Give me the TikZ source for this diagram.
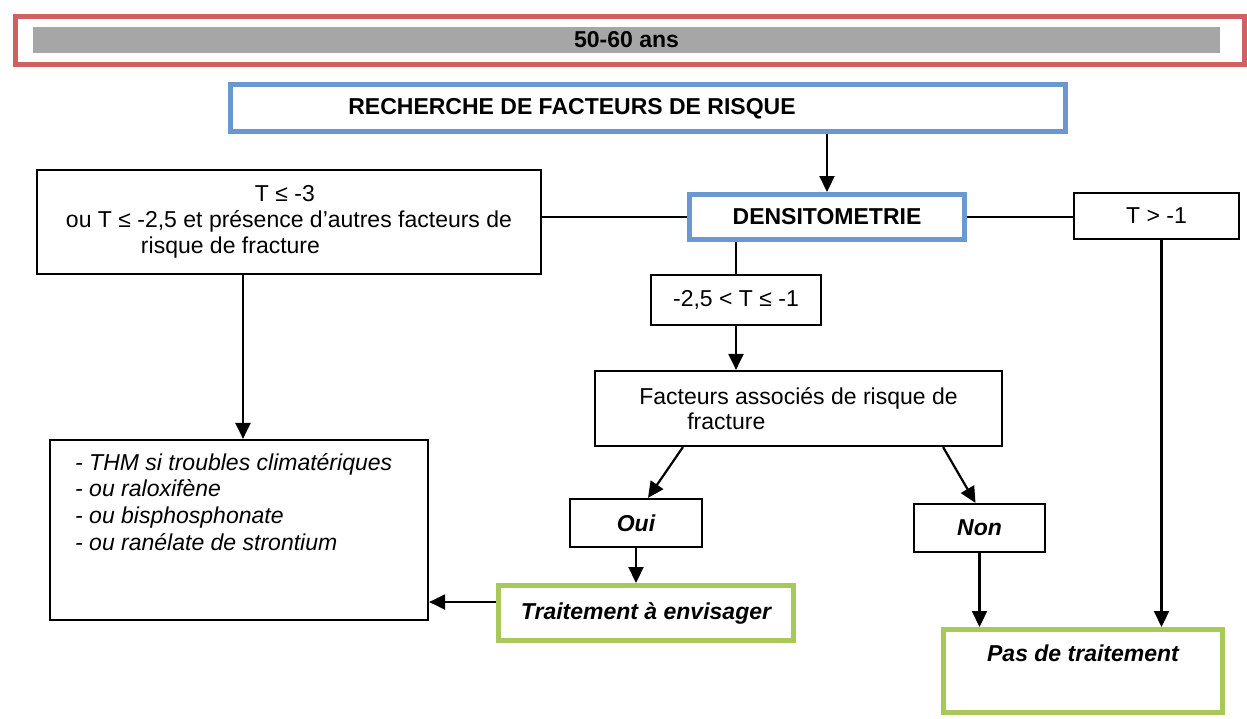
\documentclass[tikz,border=0pt]{standalone}
\usepackage{fontspec}
\setmainfont{Liberation Sans}
\usetikzlibrary{arrows.meta}
\definecolor{redc}{RGB}{208,96,98}
\definecolor{bluec}{RGB}{108,152,210}
\definecolor{greenc}{RGB}{168,200,88}
\definecolor{grayc}{RGB}{166,166,166}
\tikzset{
  plainbox/.style={draw=black, line width=2.2pt, inner sep=0pt},
  bluebox/.style={draw=bluec, line width=5pt, inner sep=0pt},
  greenbox/.style={draw=greenc, line width=5pt, inner sep=0pt},
  redbox/.style={draw=redc, line width=5pt, inner sep=0pt},
  txt/.style={font=\fontsize{23}{26}\selectfont},
  btxt/.style={font=\fontsize{23}{26}\selectfont\bfseries},
  bitxt/.style={font=\fontsize{23}{26}\selectfont\bfseries\itshape},
  itxt/.style={font=\fontsize{23}{26.7}\selectfont\itshape},
  conn/.style={draw=black, line width=2.2pt},
  arr/.style={conn, -{Triangle[width=15pt,length=16pt]}}
}
\begin{document}
\begin{tikzpicture}[x=1pt,y=-1pt]
\useasboundingbox (0,0) rectangle (1247,718);
\fill[white] (0,0) rectangle (1247,718);

% header
\node[redbox, minimum width=1229pt, minimum height=48pt] (age) at (630,40.5) {};
\node[fill=grayc, minimum width=1187pt, minimum height=26pt, inner sep=0pt, btxt] (bar) at (626.5,40) {50-60 ans};

% recherche
\node[bluebox, minimum width=835pt, minimum height=47pt] (rech) at (648,108) {};
\node[btxt, anchor=base, inner sep=0pt] (rechtxt) at (572,114) {RECHERCHE DE FACTEURS DE RISQUE};

% densitometrie
\node[bluebox, btxt, minimum width=275pt, minimum height=45pt] (dens) at (827,217) {DENSITOMETRIE};

% left top box
\node[plainbox, txt, align=left, minimum width=504pt, minimum height=104pt] (lt) at (289,222)
  {\hspace*{189pt}T ≤ -3\\ou T ≤ -2,5 et présence d’autres facteurs de\\\hspace*{75pt}risque de fracture};

% T > -1
\node[plainbox, txt, minimum width=165pt, minimum height=46pt] (t1) at (1156.5,216) {T > -1};

% middle
\node[plainbox, txt, minimum width=170pt, minimum height=50pt] (mid) at (736,300) {-2,5 < T ≤ -1};

% facteurs
\node[plainbox, font=\fontsize{23}{24.5}\selectfont, align=left, minimum width=407pt, minimum height=75pt] (fac) at (798.5,408.5)
  {Facteurs associés de risque de\\\hspace*{48pt}fracture};

% list box
\node[plainbox, minimum width=378pt, minimum height=180pt] (list) at (239,530) {};
\node[itxt, align=left, anchor=north west, inner sep=0pt] (listtxt) at (75,453)
  {- THM si troubles climatériques\\- ou raloxifène\\- ou bisphosphonate\\- ou ranélate de strontium};

% oui / non
\node[plainbox, bitxt, minimum width=132pt, minimum height=48pt] (oui) at (636,523) {Oui};
\node[plainbox, bitxt, minimum width=131pt, minimum height=48pt] (non) at (979.5,528) {Non};

% outcomes
\node[greenbox, bitxt, minimum width=295pt, minimum height=55pt] (trait) at (646,613) {Traitement à envisager};
\node[greenbox, minimum width=279pt, minimum height=83pt] (pas) at (1083,671) {};
\node[bitxt, anchor=base, inner sep=0pt] (pastxt) at (1083,661) {Pas de traitement};

% connectors
\draw[arr] (rech.south -| dens.north) -- (dens.north);
\draw[conn] (dens.west -| lt.east) -- (dens.west);
\draw[conn] (dens.east) -- (dens.east -| t1.west);
\draw[conn] (mid.north |- dens.south) -- (mid.north);
\draw[arr] (mid.south) -- (mid.south |- fac.north);
\coordinate (fo) at ([xshift=89pt]fac.south west);
\coordinate (fn) at ([xshift=-60pt]fac.south east);
\draw[arr] (fo) -- ([xshift=12pt]oui.north);
\draw[arr] (fn) -- ([xshift=-4pt]non.north);
\draw[arr] (oui.south) -- (oui.south |- trait.north);
\coordinate (tw) at ([yshift=11pt]trait.west);
\draw[arr] (tw) -- (tw -| list.east);
\coordinate (ls) at ([xshift=-46pt]lt.south);
\draw[arr] (ls) -- (ls |- list.north);
\draw[arr] (non.south) -- (non.south |- pas.north);
\coordinate (ts) at ([xshift=5pt]t1.south);
\draw[arr] (ts) -- (ts |- pas.north);
\end{tikzpicture}
\end{document}
